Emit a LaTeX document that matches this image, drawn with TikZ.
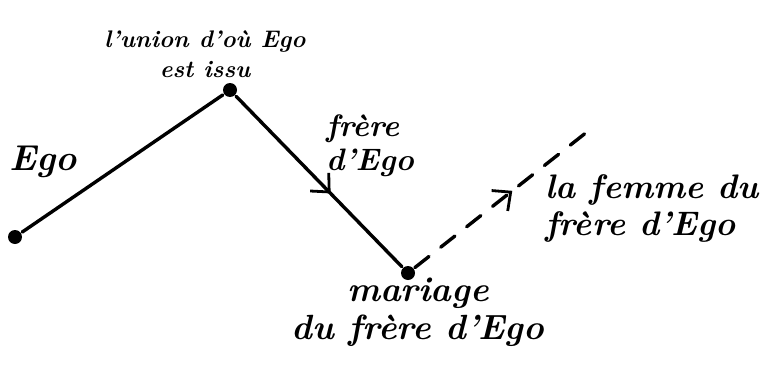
\documentclass[tikz,border=0pt]{standalone}
\usepackage{fontspec}
\setmainfont{Latin Modern Roman}
\usetikzlibrary{arrows.meta,decorations.markings}
\begin{document}
\begin{tikzpicture}[x=1pt,y=-1pt,line width=3.4pt,line cap=round,
  dot/.style={circle,fill,inner sep=0pt,minimum size=14pt},
  lbl/.style={font=\fontsize{#1}{#1}\selectfont\bfseries\itshape,align=center,inner sep=0pt},
  lbl/.default=30,
  midarrow/.style={decoration={markings,mark=at position #1 with {\arrow{Straight Barb[length=14pt,width=26pt,line width=2.8pt]}}},postaction={decorate}},
  dashline/.style={dash pattern=on 18pt off 15pt}]
\useasboundingbox (0,0) rectangle (760,372);
\node[dot] (ego) at (15,237) {};
\node[dot] (union) at (230,90) {};
\node[dot] (mar) at (408,273) {};
\coordinate (end) at (592,128);
\draw (ego) -- (union);
\draw[midarrow=0.57] (union) -- (mar);
\draw[dashline,midarrow=0.55] (mar) -- (end);
\node[lbl=36] (tEgo) at (43,162) {Ego};
\node[lbl=24] (tUnion) at (205,54) {l'union d'où Ego\\[6pt]est issu};
\node[lbl=31,align=left] (tFrere) at (370,146) {frère\\[3pt]d'Ego};
\node[lbl=35] (tMar) at (418,312) {mariage\\[3pt]du frère d'Ego};
\node[lbl=34,align=left] (tFemme) at (652,208) {la femme du\\[3pt]frère d'Ego};
\end{tikzpicture}
\end{document}
